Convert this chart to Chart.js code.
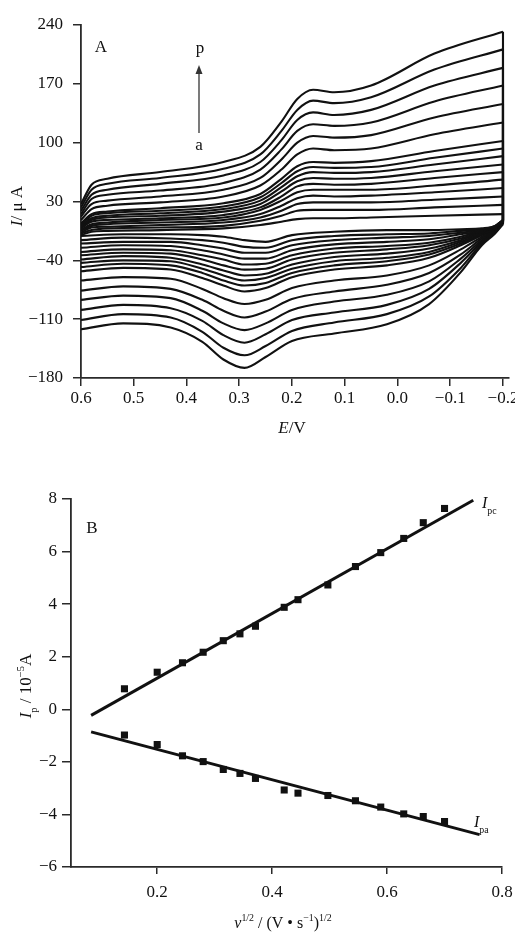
<!DOCTYPE html>
<html>
<head>
<meta charset="utf-8">
<script src="https://cdn.jsdelivr.net/npm/chart.js@4.4.1/dist/chart.umd.min.js"></script>
<style>
  html, body { margin: 0; padding: 0; background: #fff; }
  body { width: 515px; height: 933px; position: relative; overflow: hidden; }
  canvas { position: absolute; left: 0; }
  #chartA { top: 0; }
  #chartB { top: 440px; }
</style>
</head>
<body>
<canvas id="chartA" width="515" height="440"></canvas>
<canvas id="chartB" width="515" height="493"></canvas>
<script>
// ---- panel A: cyclic voltammograms a..p ----
const CURVES = ["a", "b", "c", "d", "e", "f", "g", "h", "i", "j", "k", "l", "m", "n", "o", "p"];

// forward sweep 0.6 -> -0.2 V (upper branch)
const E_FWD = [0.6, 0.58, 0.55, 0.45, 0.33, 0.26, 0.22, 0.19, 0.16, 0.12, 0.05, -0.07, -0.2];
const I_FWD = [
  [-10, -6, -5, -4, -2, 2, 6, 9, 10, 10, 11, 13, 15], // a
  [-8, -4, -2, -1, 1, 7, 13, 19, 20, 20, 20, 23, 26], // b
  [-7, -1, 0, 2, 5, 11, 19, 27, 29, 29, 29, 32, 36], // c
  [-5, 1, 3, 5, 8, 15, 25, 34, 37, 36, 37, 41, 46], // d
  [-4, 3, 5, 8, 11, 20, 31, 41, 44, 44, 44, 49, 56], // e
  [-2, 6, 8, 10, 14, 23, 36, 48, 51, 50, 51, 58, 65], // f
  [-1, 8, 11, 13, 18, 27, 42, 54, 58, 57, 58, 66, 74], // g
  [1, 10, 13, 16, 21, 31, 47, 60, 65, 64, 65, 74, 84], // h
  [2, 13, 16, 19, 24, 35, 52, 66, 71, 70, 71, 82, 93], // i
  [4, 15, 18, 22, 28, 39, 57, 72, 77, 76, 78, 90, 102], // j
  [8, 21, 25, 29, 36, 49, 68, 86, 93, 91, 93, 110, 124], // k
  [12, 27, 31, 36, 44, 58, 80, 100, 108, 106, 109, 130, 146], // l
  [15, 33, 38, 43, 52, 68, 92, 114, 122, 120, 124, 149, 168], // m
  [19, 38, 44, 51, 61, 77, 103, 127, 136, 133, 139, 168, 189], // n
  [23, 44, 51, 58, 69, 86, 114, 139, 150, 147, 154, 187, 211], // o
  [27, 50, 57, 65, 77, 95, 125, 152, 163, 160, 168, 206, 232] // p
];

// reverse sweep -0.2 -> 0.6 V (lower branch)
const E_REV = [-0.2, -0.185, -0.16, -0.12, -0.06, 0.02, 0.12, 0.2, 0.25, 0.29, 0.33, 0.37, 0.43, 0.52, 0.6];
const I_REV = [
  [8, 1, -2, -3, -4, -4, -6, -10, -18, -16, -12, -10, -9, -9, -11], // a
  [8, 1, -3, -5, -8, -9, -11, -16, -25, -24, -19, -16, -14, -13, -16], // b
  [8, 0, -4, -7, -11, -13, -16, -22, -31, -31, -26, -22, -18, -18, -20], // c
  [7, 0, -5, -9, -15, -18, -21, -28, -38, -38, -33, -28, -23, -22, -25], // d
  [7, -1, -5, -12, -19, -23, -26, -34, -44, -45, -39, -34, -28, -27, -30], // e
  [7, -1, -6, -14, -22, -27, -31, -39, -50, -51, -46, -39, -32, -31, -34], // f
  [7, -1, -7, -16, -26, -32, -36, -45, -56, -58, -52, -45, -37, -35, -39], // g
  [7, -2, -8, -18, -30, -37, -41, -50, -61, -64, -58, -50, -41, -40, -43], // h
  [6, -2, -9, -20, -33, -41, -46, -55, -67, -70, -64, -55, -46, -44, -48], // i
  [6, -2, -10, -22, -37, -46, -51, -60, -73, -77, -70, -61, -51, -49, -53], // j
  [6, -3, -12, -27, -46, -58, -64, -73, -87, -92, -85, -74, -62, -60, -64], // k
  [5, -4, -14, -33, -55, -69, -77, -86, -101, -108, -100, -87, -74, -71, -76], // l
  [5, -5, -16, -38, -65, -81, -89, -99, -115, -123, -115, -100, -85, -82, -87], // m
  [4, -6, -18, -43, -74, -93, -102, -111, -128, -138, -129, -112, -97, -93, -99], // n
  [4, -7, -20, -49, -83, -104, -114, -124, -142, -153, -144, -125, -108, -104, -111], // o
  [3, -8, -22, -54, -92, -116, -127, -136, -155, -168, -158, -137, -120, -115, -122] // p
];

const X_TICKS_A = [0.6, 0.5, 0.4, 0.3, 0.2, 0.1, 0, -0.1, -0.2];
const X_LABELS_A = ["0.6", "0.5", "0.4", "0.3", "0.2", "0.1", "0.0", "\u22120.1", "\u22120.2"];
const Y_TICKS_A = [-180, -110, -40, 30, 100, 170, 240];
const Y_LABELS_A = ["\u2212180", "\u2212110", "\u221240", "30", "100", "170", "240"];

// ---- panel B: peak current vs sqrt(scan rate) ----
const SQRT_V = [0.143, 0.2, 0.244, 0.28, 0.315, 0.344, 0.371, 0.421, 0.445, 0.497, 0.545, 0.589, 0.629, 0.663, 0.7];
const I_PC = [0.78, 1.41, 1.77, 2.17, 2.61, 2.87, 3.16, 3.88, 4.17, 4.73, 5.43, 5.96, 6.5, 7.1, 7.64];
const I_PA = [-0.98, -1.34, -1.77, -1.99, -2.29, -2.44, -2.63, -3.07, -3.19, -3.28, -3.48, -3.72, -3.98, -4.08, -4.27];
const FIT_PC_X = [0.085, 0.75];
const FIT_PC = [-0.23, 7.95];
const FIT_PA_X = [0.085, 0.761];
const FIT_PA = [-0.86, -4.77];

const X_TICKS_B = [0.2, 0.4, 0.6, 0.8];
const X_LABELS_B = ["0.2", "0.4", "0.6", "0.8"];
const Y_TICKS_B = [-6, -4, -2, 0, 2, 4, 6, 8];
const Y_LABELS_B = ["\u22126", "\u22124", "\u22122", "0", "2", "4", "6", "8"];

const SERIF = '"Liberation Serif", "Times New Roman", serif';
const INK = "#111";
const AXIS = "#2a2a2a";

Chart.defaults.font.family = SERIF;
Chart.defaults.font.size = 17;
Chart.defaults.color = INK;

function pts(xs, ys) {
  return xs.map((x, i) => ({ x: x, y: ys[i] }));
}

// text with italic / sub / sup pieces, y is the baseline
function rich(ctx, parts, x, y, size, align) {
  function fontOf(p) {
    let s = p.sub || p.sup ? size * 0.62 : size;
    return (p.it ? "italic " : "") + s + "px " + SERIF;
  }
  let w = 0;
  parts.forEach((p) => {
    ctx.font = fontOf(p);
    w += ctx.measureText(p.t).width;
  });
  let cx = align === "center" ? x - w / 2 : x;
  ctx.textAlign = "left";
  ctx.textBaseline = "alphabetic";
  parts.forEach((p) => {
    ctx.font = fontOf(p);
    let dy = p.sub ? size * 0.35 : p.sup ? -size * 0.42 : 0;
    ctx.fillText(p.t, cx, y + dy);
    cx += ctx.measureText(p.t).width;
  });
}

function richUp(ctx, parts, cx, cy, size) {
  ctx.save();
  ctx.translate(cx, cy);
  ctx.rotate(-Math.PI / 2);
  rich(ctx, parts, 0, size * 0.35, size, "center");
  ctx.restore();
}

function scale(min, max, ticks, labels, tickLen, pad, size, reverse) {
  return {
    type: "linear",
    min: min,
    max: max,
    reverse: !!reverse,
    bounds: "data",
    border: { display: true, color: AXIS, width: 1.8 },
    grid: { drawOnChartArea: false, drawTicks: true, tickLength: tickLen, color: AXIS, lineWidth: 1.5 },
    ticks: {
      padding: pad,
      color: INK,
      autoSkip: false,
      maxRotation: 0,
      font: { size: 17 },
      callback: (v, i) => labels[i]
    },
    afterBuildTicks: (s) => {
      s.ticks = ticks.map((v) => ({ value: v }));
    },
    afterFit: (s) => {
      if (s.isHorizontal()) {
        s.height = size;
        s.paddingLeft = 0;
        s.paddingRight = 0;
      } else {
        s.width = size;
        s.paddingTop = 0;
        s.paddingBottom = 0;
      }
    }
  };
}

// ---- build panel A ----
let cvSets = [];
CURVES.forEach((name, k) => {
  let up = I_FWD[k];
  let down = I_REV[k];
  cvSets.push({
    label: name + " forward",
    data: pts(E_FWD, up),
    showLine: true,
    cubicInterpolationMode: "monotone",
    borderColor: INK,
    borderWidth: 2.1,
    pointRadius: 0
  });
  // switching point at -0.2 V
  cvSets.push({
    label: name + " switch",
    data: [
      { x: E_FWD[E_FWD.length - 1], y: up[up.length - 1] },
      { x: E_REV[0], y: down[0] }
    ],
    showLine: true,
    borderColor: INK,
    borderWidth: 2.1,
    pointRadius: 0
  });
  cvSets.push({
    label: name + " reverse",
    data: pts(E_REV, down),
    showLine: true,
    cubicInterpolationMode: "monotone",
    borderColor: INK,
    borderWidth: 2.1,
    pointRadius: 0
  });
});

const notesA = {
  id: "notesA",
  afterDraw(chart) {
    const ctx = chart.ctx;
    ctx.save();
    ctx.fillStyle = INK;
    rich(ctx, [{ t: "A" }], 101, 52, 17, "center");
    rich(ctx, [{ t: "p" }], 200, 53, 17, "center");
    rich(ctx, [{ t: "a" }], 199, 150, 17, "center");

    ctx.strokeStyle = "#333";
    ctx.fillStyle = "#333";
    ctx.lineWidth = 1.3;
    ctx.beginPath();
    ctx.moveTo(199, 133);
    ctx.lineTo(199, 72);
    ctx.stroke();
    ctx.beginPath();
    ctx.moveTo(199, 65);
    ctx.lineTo(195.5, 74);
    ctx.lineTo(202.5, 74);
    ctx.closePath();
    ctx.fill();

    ctx.fillStyle = INK;
    richUp(ctx, [{ t: "I", it: true }, { t: "/ \u03bc A" }], 16, 206, 17);
    rich(ctx, [{ t: "E", it: true }, { t: "/V" }], 292, 433, 17, "center");
    ctx.restore();
  }
};

new Chart(document.getElementById("chartA"), {
  type: "scatter",
  data: { datasets: cvSets },
  options: {
    responsive: false,
    animation: false,
    events: [],
    layout: { padding: { top: 25, right: 6, left: 0, bottom: 0 } },
    plugins: { legend: { display: false }, tooltip: { enabled: false } },
    scales: {
      x: scale(-0.2114, 0.6, X_TICKS_A, X_LABELS_A, 8, 2, 62, true),
      y: scale(-180, 240, Y_TICKS_A, Y_LABELS_A, 8, 10, 81, false)
    }
  },
  plugins: [notesA]
});

// ---- build panel B ----
const notesB = {
  id: "notesB",
  afterDraw(chart) {
    const ctx = chart.ctx;
    ctx.save();
    ctx.fillStyle = INK;
    rich(ctx, [{ t: "B" }], 92, 93, 17, "center");
    rich(ctx, [{ t: "I", it: true }, { t: "pc", sub: true }], 482, 68, 16, "left");
    rich(ctx, [{ t: "I", it: true }, { t: "pa", sub: true }], 474, 387, 16, "left");
    richUp(ctx, [{ t: "I", it: true }, { t: "p", sub: true }, { t: " / 10" }, { t: "\u22125", sup: true }, { t: "A" }], 25, 246, 17);
    rich(ctx, [
      { t: "v", it: true }, { t: "1/2", sup: true }, { t: " / (V \u2022 s" },
      { t: "\u22121", sup: true }, { t: ")" }, { t: "1/2", sup: true }
    ], 283, 488, 16, "center");
    ctx.restore();
  }
};

new Chart(document.getElementById("chartB"), {
  type: "scatter",
  data: {
    datasets: [
      {
        label: "Ipc",
        data: pts(SQRT_V, I_PC),
        pointStyle: "rect",
        pointRadius: 5,
        backgroundColor: INK,
        borderWidth: 0
      },
      {
        label: "Ipa",
        data: pts(SQRT_V, I_PA),
        pointStyle: "rect",
        pointRadius: 5,
        backgroundColor: INK,
        borderWidth: 0
      },
      {
        label: "Ipc fit",
        data: pts(FIT_PC_X, FIT_PC),
        showLine: true,
        borderColor: INK,
        borderWidth: 3,
        pointRadius: 0
      },
      {
        label: "Ipa fit",
        data: pts(FIT_PA_X, FIT_PA),
        showLine: true,
        borderColor: INK,
        borderWidth: 3,
        pointRadius: 0
      }
    ]
  },
  options: {
    responsive: false,
    animation: false,
    events: [],
    layout: { padding: { top: 59, right: 13, left: 0, bottom: 0 } },
    plugins: { legend: { display: false }, tooltip: { enabled: false } },
    scales: {
      x: scale(0.05, 0.8, X_TICKS_B, X_LABELS_B, 7, 8, 66, false),
      y: scale(-6, 8, Y_TICKS_B, Y_LABELS_B, 9, 5, 71, false)
    }
  },
  plugins: [notesB]
});
</script>
</body>
</html>
